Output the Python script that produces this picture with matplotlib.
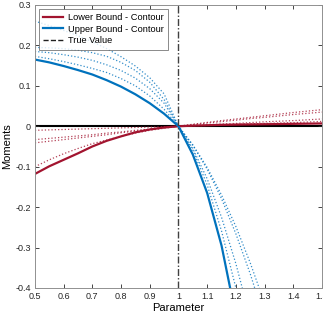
import numpy as np
import matplotlib
matplotlib.use("Agg")
import matplotlib.pyplot as plt
from matplotlib.ticker import FuncFormatter

plt.rcParams['font.family'] = ['Liberation Sans', 'DejaVu Sans']

param = [0.5, 0.55, 0.6, 0.65, 0.7, 0.75, 0.8, 0.85, 0.9, 0.95, 1.0,
         1.05, 1.1, 1.15, 1.2, 1.25, 1.3, 1.35, 1.4, 1.45, 1.5]

upper_solid = [0.165, 0.158, 0.149, 0.139, 0.128, 0.114, 0.098, 0.079, 0.057, 0.031, 0.0,
               -0.07, -0.165, -0.295, -0.47, -0.69, -0.95, -1.25, -1.6, -2.0, -2.4]
upper_dotted = [
    [0.173, 0.167, 0.160, 0.152, 0.143, 0.133, 0.118, 0.100, 0.075, 0.042, 0.0,
     -0.059, -0.145, -0.259, -0.40, -0.569, -0.78, -1.0, -1.3, -1.6, -1.9],
    [0.185, 0.182, 0.177, 0.171, 0.163, 0.152, 0.138, 0.119, 0.093, 0.057, 0.0,
     -0.055, -0.13, -0.225, -0.34, -0.475, -0.63, -0.8, -1.0, -1.2, -1.4],
    [0.195, 0.194, 0.192, 0.188, 0.182, 0.173, 0.158, 0.138, 0.109, 0.066, 0.0,
     -0.047, -0.106, -0.179, -0.266, -0.365, -0.478, -0.6, -0.74, -0.9, -1.05],
    [0.26, 0.249, 0.237, 0.224, 0.209, 0.192, 0.172, 0.149, 0.12, 0.08, 0.0,
     -0.046, -0.102, -0.17, -0.248, -0.338, -0.438, -0.55, -0.67, -0.8, -0.95],
]

lower_solid = [-0.118, -0.099, -0.083, -0.067, -0.050, -0.036, -0.025, -0.015, -0.008, -0.003, 0.0,
               0.0015, 0.0025, 0.0035, 0.004, 0.0045, 0.005, 0.0055, 0.006, 0.0065, 0.007]
lower_dotted = [
    [-0.100, -0.083, -0.068, -0.055, -0.043, -0.034, -0.025, -0.017, -0.010, -0.005, 0.0,
     0.001, 0.002, 0.003, 0.005, 0.006, 0.007, 0.008, 0.009, 0.0105, 0.012],
    [-0.041, -0.037, -0.033, -0.029, -0.025, -0.021, -0.016, -0.012, -0.008, -0.004, 0.0,
     0.002, 0.004, 0.0055, 0.007, 0.009, 0.011, 0.0125, 0.014, 0.016, 0.018],
    [-0.033, -0.030, -0.027, -0.024, -0.021, -0.017, -0.014, -0.010, -0.007, -0.003, 0.0,
     0.004, 0.008, 0.0115, 0.015, 0.019, 0.022, 0.0255, 0.029, 0.032, 0.035],
    [-0.010, -0.009, -0.008, -0.007, -0.006, -0.005, -0.004, -0.003, -0.002, -0.001, 0.0,
     0.005, 0.0095, 0.014, 0.018, 0.022, 0.026, 0.030, 0.034, 0.0375, 0.041],
]

true_value = 1.0
xticks = [0.5, 0.6, 0.7, 0.8, 0.9, 1.0, 1.1, 1.2, 1.3, 1.4, 1.5]
yticks = [-0.4, -0.3, -0.2, -0.1, 0.0, 0.1, 0.2, 0.3]
legend_labels = ['Lower Bound - Contour', 'Upper Bound - Contour', 'True Value']

red = '#A2142F'
blue = '#0072BD'

fig = plt.figure(figsize=(3.23, 3.22), dpi=100)
ax = fig.add_axes([0.108, 0.1056, 0.889, 0.879])

for s in upper_dotted:
    ax.plot(param, s, ':', color=blue, lw=0.9, alpha=0.8)
for s in lower_dotted:
    ax.plot(param, s, ':', color=red, lw=0.9, alpha=0.8)

ax.axhline(0, color='black', lw=1.5, zorder=1)
l1, = ax.plot(param, lower_solid, '-', color=red, lw=1.6)
l2, = ax.plot(param, upper_solid, '-', color=blue, lw=1.6)
ax.axvline(true_value, color='#404040', lw=1.0, ls=(0, (5, 1.5, 1, 1.5)))
lt, = ax.plot([], [], color='#202020', lw=1.0, ls='--')

ax.set_xlim(0.5, 1.5)
ax.set_ylim(-0.4, 0.3)
ax.set_xticks(xticks)
ax.set_yticks(yticks)
fmt = FuncFormatter(lambda v, p: ('%g' % round(v, 2)))
ax.xaxis.set_major_formatter(fmt)
ax.yaxis.set_major_formatter(fmt)
ax.tick_params(direction='in', top=True, right=True, labelsize=6.5, length=3,
               width=0.6, colors='#262626', pad=3)
for sp in ax.spines.values():
    sp.set_color('#909090')
    sp.set_linewidth(0.7)

ax.set_xlabel('Parameter', fontsize=8, labelpad=1)
ax.set_ylabel('Moments', fontsize=8, labelpad=2)

leg = ax.legend([l1, l2, lt], legend_labels,
                loc='upper left', fontsize=6.7, frameon=True, fancybox=False,
                edgecolor='#555555', borderpad=0.45, handlelength=2.2, labelspacing=0.3,
                handletextpad=0.5, borderaxespad=0.4)
leg.get_frame().set_linewidth(0.6)

fig.savefig('out.png', dpi=100)
